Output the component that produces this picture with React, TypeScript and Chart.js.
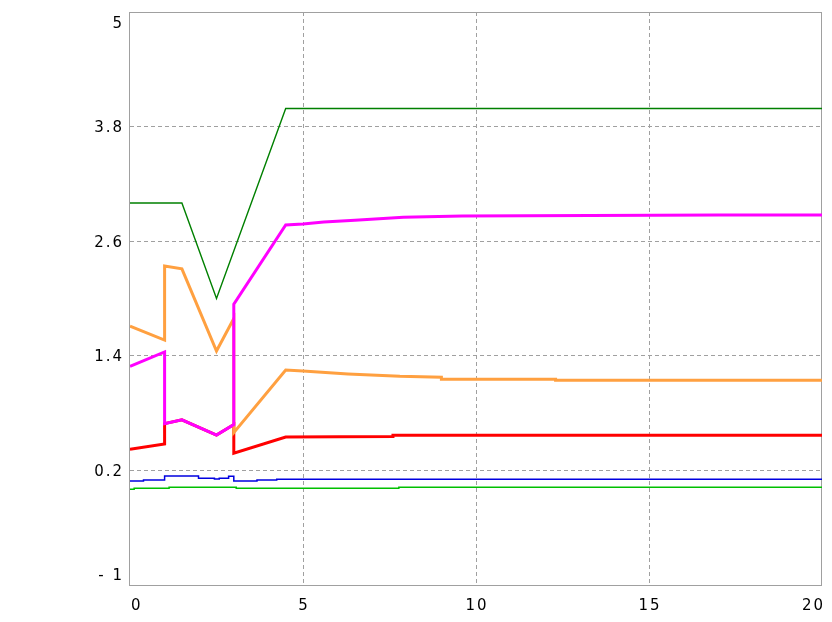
import React, { useEffect, useRef } from 'react';
import { Chart, registerables } from 'chart.js';

Chart.register(...registerables);

// ---- axis ticks ----
const xTicks = [0, 5, 10, 15, 20];
const xTickLabels = ['0', '5', '10', '15', '20'];
const yTicks = [-1, 0.2, 1.4, 2.6, 3.8, 5];
const yTickLabels = ['- 1', '0.2', '1.4', '2.6', '3.8', '5'];

// ---- series (x, y) ----
const magentaX = [0, 1.0, 1.0, 1.5, 2.5, 3.0, 3.0, 4.5, 5.0, 5.6, 6.5, 7.9, 9.6, 17.0, 20];
const magentaY = [1.29, 1.44, 0.69, 0.73, 0.57, 0.68, 1.94, 2.77, 2.78, 2.8, 2.82, 2.85, 2.865, 2.875, 2.875];

const orangeX = [0, 1.0, 1.0, 1.5, 2.5, 3.0, 3.0, 4.5, 5.0, 6.3, 7.8, 9.0, 9.0, 12.3, 12.3, 20];
const orangeY = [1.71, 1.565, 2.34, 2.31, 1.45, 1.79, 0.595, 1.25, 1.24, 1.21, 1.185, 1.175, 1.155, 1.155, 1.143, 1.143];

const redX = [0, 1.0, 1.0, 1.5, 2.5, 3.0, 3.0, 4.5, 7.6, 7.6, 20];
const redY = [0.42, 0.476, 0.69, 0.73, 0.57, 0.68, 0.38, 0.55, 0.555, 0.567, 0.567];

const darkGreenX = [0, 1.5, 2.5, 4.5, 20];
const darkGreenY = [3.0, 3.0, 2.0, 3.99, 3.99];

// stepped series: each value holds from its x to the next x
const blueX = [0, 0.39, 1.0, 1.98, 2.44, 2.58, 2.85, 3.0, 3.67, 4.24, 20];
const blueY = [0.089, 0.1, 0.141, 0.117, 0.11, 0.117, 0.14, 0.089, 0.1, 0.107, 0.107];

const greenX = [0, 0.12, 1.13, 3.07, 7.77, 20];
const greenY = [0.002, 0.012, 0.023, 0.012, 0.023, 0.023];

const pts = (xs: number[], ys: number[]) => xs.map((x, i) => ({ x, y: ys[i] }));

const LABEL_FONT = '15px "DejaVu Sans"';

export default function App() {
  const ref = useRef<HTMLCanvasElement>(null);

  useEffect(() => {
    if (!ref.current) return;

    const framePlugin = {
      id: 'frameAndLabels',
      beforeDatasetsDraw(chart: any) {
        const { ctx, chartArea: a } = chart;
        ctx.save();
        ctx.strokeStyle = '#a0a0a0';
        ctx.lineWidth = 1;
        ctx.setLineDash([]);
        ctx.strokeRect(a.left - 0.5, a.top + 0.5, a.right - a.left, a.bottom - a.top);
        ctx.restore();
      },
      afterDraw(chart: any) {
        const { ctx, chartArea: a, scales } = chart;
        ctx.save();
        ctx.font = LABEL_FONT;
        ctx.fillStyle = '#000000';
        try { (ctx as any).letterSpacing = '2px'; } catch (e) { /* ignore */ }
        ctx.textBaseline = 'middle';
        ctx.textAlign = 'right';
        yTicks.forEach((v, i) => {
          let py = scales.y.getPixelForValue(v);
          py = Math.min(Math.max(py, a.top + 11), a.bottom - 10) + 1.5;
          ctx.fillText(yTickLabels[i], a.left - 6, py);
        });
        xTicks.forEach((v, i) => {
          const px = scales.x.getPixelForValue(v);
          const py = a.bottom + 21.5;
          if (i === 0) {
            ctx.textAlign = 'left';
            ctx.fillText(xTickLabels[i], px + 1, py);
          } else if (i === xTicks.length - 1) {
            ctx.textAlign = 'right';
            ctx.fillText(xTickLabels[i], px + 3, py);
          } else {
            ctx.textAlign = 'center';
            ctx.fillText(xTickLabels[i], px + 1, py);
          }
        });
        ctx.restore();
      },
    };

    const isEdge = (c: any, lo: number, hi: number) =>
      c.tick && (Math.abs(c.tick.value - lo) < 1e-9 || Math.abs(c.tick.value - hi) < 1e-9);

    const line = (label: string, data: any[], color: string, width: number, stepped: boolean = false) => ({
      label,
      data,
      borderColor: color,
      backgroundColor: color,
      borderWidth: width,
      pointRadius: 0,
      pointHoverRadius: 0,
      tension: 0,
      fill: false,
      stepped,
      borderJoinStyle: 'miter' as const,
    });

    const chart = new Chart(ref.current, {
      type: 'line',
      data: {
        datasets: [
          line('magenta', pts(magentaX, magentaY), '#ff00ff', 3),
          line('orange', pts(orangeX, orangeY), '#ffa040', 3),
          line('red', pts(redX, redY), '#ff0000', 3),
          line('darkgreen', pts(darkGreenX, darkGreenY), '#008000', 1.4),
          line('blue', pts(blueX, blueY), '#0000e0', 1.5, true),
          line('green', pts(greenX, greenY), '#00c000', 1.5, true),
        ],
      },
      options: {
        animation: false,
        responsive: false,
        parsing: false as any,
        layout: { padding: { left: 130, top: 12, right: 10, bottom: 37 } },
        plugins: { legend: { display: false }, tooltip: { enabled: false }, title: { display: false } },
        scales: {
          x: {
            type: 'linear',
            min: 0,
            max: 20,
            afterBuildTicks: (s: any) => { s.ticks = xTicks.map((v) => ({ value: v })); },
            afterFit: (s: any) => { s.height = 0; },
            ticks: { display: false },
            grid: {
              color: (c: any) => (isEdge(c, 0, 20) ? 'rgba(0,0,0,0)' : '#a0a0a0'),
              lineWidth: 1,
              drawTicks: false,
              tickLength: 0,
            },
            border: { display: false, dash: [4, 3] },
          },
          y: {
            type: 'linear',
            min: -1,
            max: 5,
            afterBuildTicks: (s: any) => { s.ticks = yTicks.map((v) => ({ value: v })); },
            afterFit: (s: any) => { s.width = 0; },
            ticks: { display: false },
            grid: {
              color: (c: any) => (isEdge(c, -1, 5) ? 'rgba(0,0,0,0)' : '#a0a0a0'),
              lineWidth: 1,
              drawTicks: false,
              tickLength: 0,
            },
            border: { display: false, dash: [4, 3] },
          },
        },
      },
      plugins: [framePlugin],
    });

    return () => chart.destroy();
  }, []);

  return (
    <canvas
      ref={ref}
      width={832}
      height={622}
      style={{ position: 'absolute', left: 0, top: 0, display: 'block', background: '#ffffff' }}
    />
  );
}
